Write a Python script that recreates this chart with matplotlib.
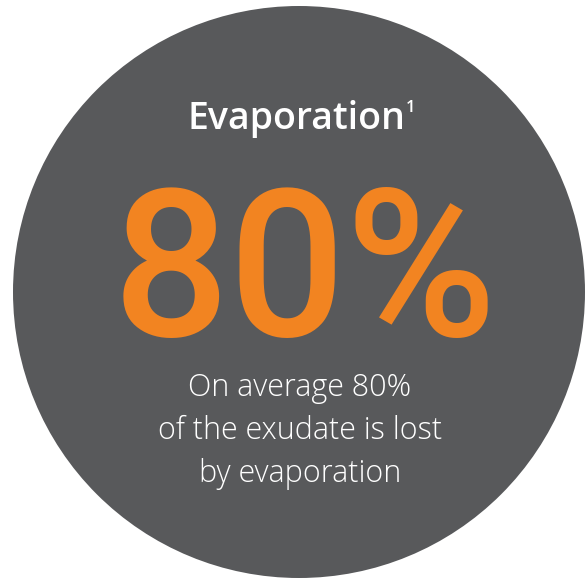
import matplotlib
matplotlib.use("Agg")
import matplotlib.pyplot as plt
from matplotlib.patches import Circle

# content of the graphic
title = "Evaporation"
footnote = "1"
share = 80
caption_lines = ["On average 80%", "of the exudate is lost", "by evaporation"]

grey = "#58595b"
orange = "#f28421"

fig = plt.figure(figsize=(5.85, 5.79), dpi=100)
ax = fig.add_axes([0, 0, 1, 1])
ax.set_xlim(0, 585)
ax.set_ylim(579, 0)
ax.axis("off")

ax.add_patch(Circle((299, 292), 286, color=grey, lw=0))

t = ax.text(296, 129, title, color="white", fontsize=27, family="Open Sans",
            weight="semibold", ha="center", va="baseline")
fig.canvas.draw()
bb = t.get_window_extent().transformed(ax.transData.inverted())
ax.text(max(bb.x0, bb.x1) + 1, 112, footnote, color="white", fontsize=12,
        family="Open Sans", weight="semibold", ha="left", va="baseline")

ax.text(305, 336, f"{share}%", color=orange, fontsize=148, family="Roboto",
        weight="medium", ha="center", va="baseline")

for i, line in enumerate(caption_lines):
    ax.text(300, 396 + 43 * i, line, color="white", fontsize=22,
            family="Open Sans", weight="light", ha="center", va="baseline")

fig.savefig("out.png", dpi=100)
